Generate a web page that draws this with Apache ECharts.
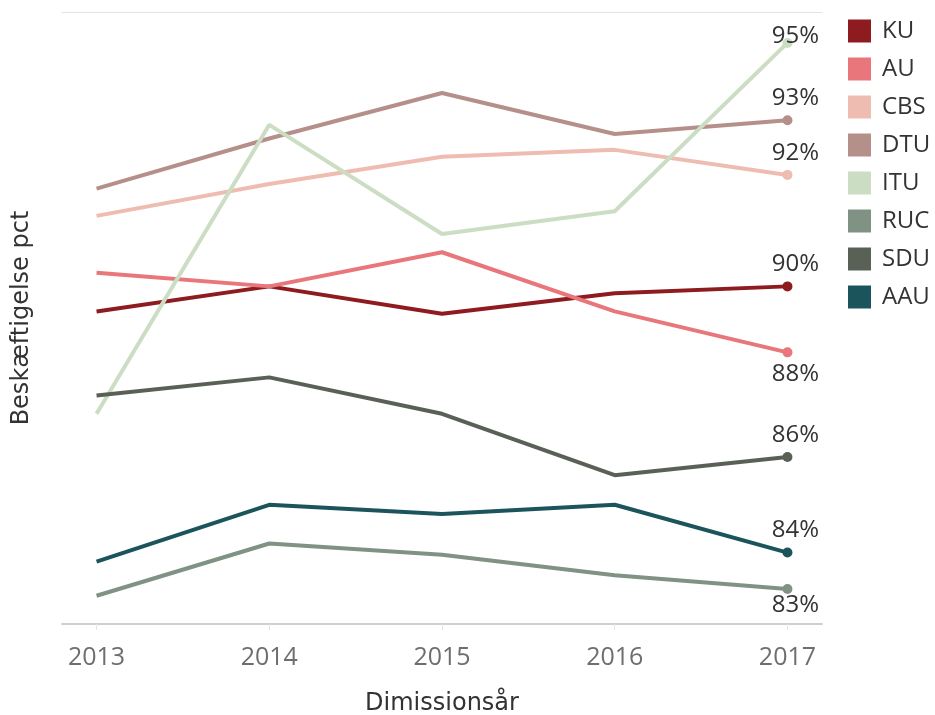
<!DOCTYPE html>
<html>
<head>
<meta charset="utf-8">
<script src="https://cdn.jsdelivr.net/npm/echarts@6/dist/echarts.min.js"></script>
<style>
  html, body { margin: 0; padding: 0; background: #fff; }
  #chart { width: 935px; height: 715px; }
</style>
</head>
<body>
<div id="chart"></div>
<script>
// data (pct employed, by graduation year)
const years = [2013, 2014, 2015, 2016, 2017];
const schools = ["KU", "AU", "CBS", "DTU", "ITU", "RUC", "SDU", "AAU"];
const KU  = [89.1, 89.65, 89.05, 89.5, 89.65];
const AU  = [89.95, 89.65, 90.4, 89.1, 88.2];
const CBS = [91.2, 91.9, 92.5, 92.65, 92.1];
const DTU = [91.8, 92.9, 93.9, 93.0, 93.3];
const ITU = [86.85, 93.2, 90.8, 91.3, 95.0];
const RUC = [82.85, 84.0, 83.75, 83.3, 83.0];
const SDU = [87.25, 87.65, 86.85, 85.5, 85.9];
const AAU = [83.6, 84.85, 84.65, 84.85, 83.8];

const values = { KU, AU, CBS, DTU, ITU, RUC, SDU, AAU };

const colors = {
  KU: "#8e1b20",
  AU: "#e8767a",
  CBS: "#efbcb1",
  DTU: "#b58f8a",
  ITU: "#cbddc2",
  RUC: "#7f9283",
  SDU: "#596157",
  AAU: "#1c545c",
};

// where the end label sits
const labelPos = {
  KU: ["top", [8, 0]],
  AU: ["bottom", [8, 0]],
  CBS: ["top", [8, 0]],
  DTU: ["top", [8, 0]],
  ITU: ["top", [8, 15]],
  RUC: ["bottom", [8, -6]],
  SDU: ["top", [8, 0]],
  AAU: ["top", [8, 0]],
};

const chart = echarts.init(document.getElementById("chart"));

const series = schools.map((name) => {
  const vals = values[name];
  const last = vals.length - 1;
  return {
    name,
    type: "line",
    data: vals.map((v, i) => [years[i], v]),
    lineStyle: { width: 4, color: colors[name] },
    itemStyle: { color: colors[name] },
    symbol: "circle",
    symbolSize: (v, p) => (p.dataIndex === last ? 10 : 0),
    showAllSymbol: true,
    label: {
      show: true,
      position: labelPos[name][0],
      offset: labelPos[name][1],
      distance: 5,
      fontFamily: "Open Sans",
      fontSize: 24,
      color: "#333",
      formatter: (p) =>
        p.dataIndex === last ? Math.round(p.value[1]) + "%" : "",
    },
    emphasis: { disabled: true },
    z: 2,
  };
});

chart.setOption({
  animation: false,
  grid: { left: 62, right: 113, top: 12, bottom: 91, outerBoundsMode: "none" },
  legend: {
    orient: "vertical",
    left: 848,
    top: 19,
    padding: 0,
    itemWidth: 23,
    itemHeight: 23,
    itemGap: 14,
    icon: "rect",
    data: schools,
    textStyle: { fontFamily: "Open Sans", fontSize: 24, color: "#333", padding: [0, 0, 0, 6] },
  },
  xAxis: [
    {
      type: "value",
      min: 2012.8,
      max: 2017.2,
      name: "Dimissionsår",
      nameLocation: "middle",
      nameGap: 68,
      nameTextStyle: { fontFamily: "DejaVu Sans", fontSize: 24, color: "#333" },
      axisLine: { show: true, lineStyle: { color: "#cfcfcf", width: 2 } },
      axisTick: { show: true, customValues: years, length: 6, lineStyle: { color: "#e6e6e6" } },
      axisLabel: {
        customValues: years,
        fontFamily: "Open Sans",
        fontSize: 25,
        color: "#6e6e6e",
        margin: 21,
        formatter: (v) => String(v),
      },
      splitLine: { show: false },
    },
    {
      type: "value",
      position: "top",
      min: 2012.8,
      max: 2017.2,
      axisLine: { show: true, lineStyle: { color: "#e3e3e3", width: 1 } },
      axisTick: { show: false },
      axisLabel: { show: false },
      splitLine: { show: false },
    },
  ],
  yAxis: {
    type: "value",
    min: 82.23,
    max: 95.68,
    name: "Beskæftigelse pct",
    nameLocation: "middle",
    nameGap: 28,
    nameTextStyle: { fontFamily: "DejaVu Sans", fontSize: 24, color: "#333" },
    axisLine: { show: false },
    axisTick: { show: false },
    axisLabel: { show: false },
    splitLine: { show: false },
  },
  series,
});
</script>
</body>
</html>
